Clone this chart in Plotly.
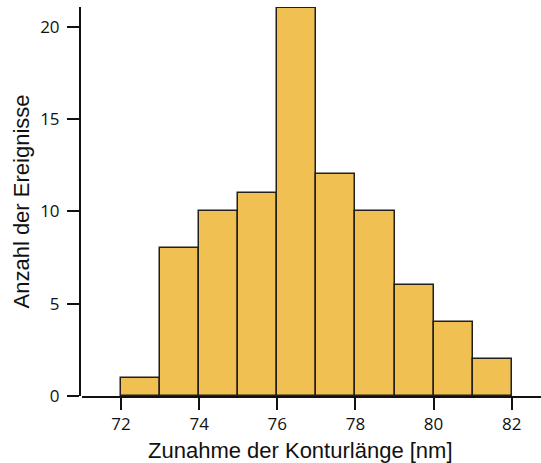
import plotly.graph_objects as go

# Histogram of contour-length increase, 1 nm bins
bin_left = [72, 73, 74, 75, 76, 77, 78, 79, 80, 81]
counts = [1, 8, 10, 11, 21, 12, 10, 6, 4, 2]
bin_width = 1.0

x_ticks = [72, 74, 76, 78, 80, 82]
y_ticks = [0, 5, 10, 15, 20]

x_title = "Zunahme der Konturlänge [nm]"
y_title = "Anzahl der Ereignisse"

W, H = 541, 463
ml, mr, mt, mb = 80, 0, 7, 67

fig = go.Figure()
fig.add_trace(go.Bar(
    x=[b + bin_width / 2 for b in bin_left],
    y=counts,
    width=[bin_width] * len(counts),
    marker=dict(color="#F0C152", line=dict(color="#231F1A", width=1.5)),
    cliponaxis=False,
    hoverinfo="x+y",
))

tick_font = dict(family="Open Sans", size=17, color="#111")
title_font = dict(family="Liberation Sans, Arial", size=22, color="#111")

fig.update_layout(
    width=W, height=H,
    margin=dict(l=ml, r=mr, t=mt, b=mb, pad=0),
    paper_bgcolor="white", plot_bgcolor="white",
    showlegend=False,
    bargap=0,
    xaxis=dict(
        domain=[2 / (W - ml - mr), 1],
        range=[71.0, 82.75],
        tickmode="array", tickvals=x_ticks,
        ticks="outside", ticklen=12, tickwidth=1.5, tickcolor="#111",
        showline=True, linecolor="#111", linewidth=2,
        showgrid=False, zeroline=False,
        tickfont=tick_font,
        anchor="y",
    ),
    yaxis=dict(
        range=[0, 21.06],
        anchor="free", position=0,
        tickmode="array", tickvals=y_ticks,
        ticks="outside", ticklen=12, tickwidth=1.5, tickcolor="#111",
        showline=True, linecolor="#111", linewidth=2,
        showgrid=False, zeroline=False,
        tickfont=tick_font,
        ticklabelstandoff=4,
    ),
    annotations=[
        dict(text=x_title, xref="paper", yref="paper",
             x=(300.5 - ml) / (W - ml - mr), y=-(450 - (H - mb)) / (H - mt - mb),
             xanchor="center", yanchor="middle", showarrow=False, font=title_font),
        dict(text=y_title, xref="paper", yref="paper",
             x=-(ml - 21) / (W - ml - mr), y=0.5, textangle=-90,
             xanchor="center", yanchor="middle", showarrow=False, font=title_font),
    ],
)

fig.write_html("out.html")
